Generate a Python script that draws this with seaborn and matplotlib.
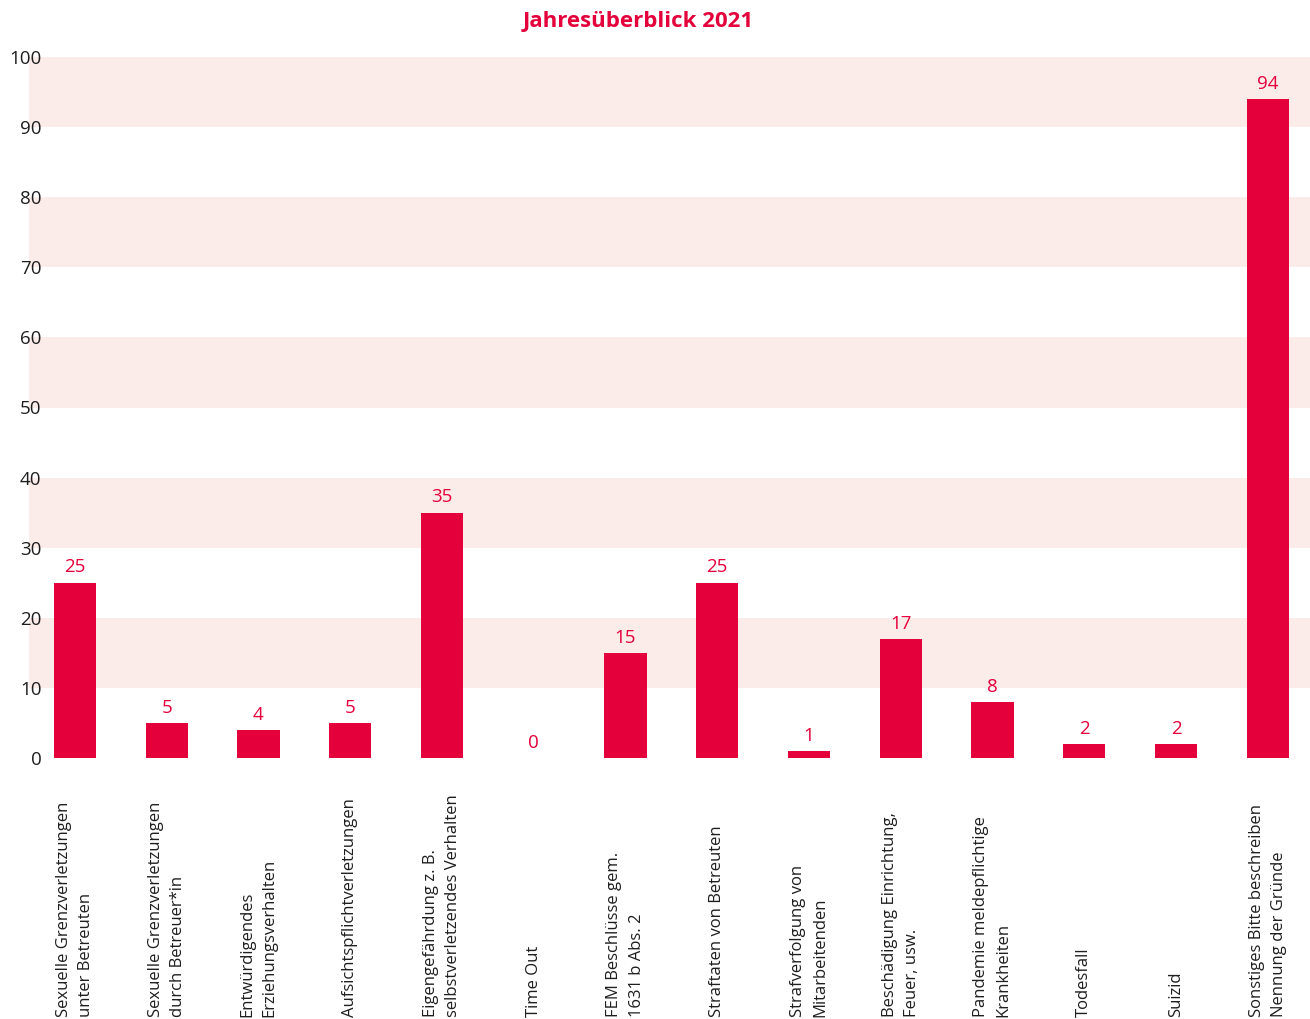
import pandas as pd
import numpy as np
import matplotlib.pyplot as plt
import matplotlib.transforms as mtransforms
import seaborn as sns

# Daten
kategorien = [
    "Sexuelle Grenzverletzungen\nunter Betreuten",
    "Sexuelle Grenzverletzungen\ndurch Betreuer*in",
    "Entwürdigendes\nErziehungsverhalten",
    "Aufsichtspflichtverletzungen",
    "Eigengefährdung z. B.\nselbstverletzendes Verhalten",
    "Time Out",
    "FEM Beschlüsse gem.\n1631 b Abs. 2",
    "Straftaten von Betreuten",
    "Strafverfolgung von\nMitarbeitenden",
    "Beschädigung Einrichtung,\nFeuer, usw.",
    "Pandemie meldepflichtige\nKrankheiten",
    "Todesfall",
    "Suizid",
    "Sonstiges Bitte beschreiben\nNennung der Gründe",
]
anzahl = [25, 5, 4, 5, 35, 0, 15, 25, 1, 17, 8, 2, 2, 94]
y_ticks = list(range(0, 101, 10))

ROT = "#E4003A"
BAND = "#FBEBE9"

sns.set_style("white")
plt.rcParams['font.family'] = ['Open Sans', 'DejaVu Sans']

df = pd.DataFrame({"Kategorie": kategorien, "Anzahl": anzahl})

fig = plt.figure(figsize=(13.1, 10.19), dpi=100)
ax = fig.add_axes([29 / 1310, 1 - 758 / 1019, 1 - 29 / 1310, (758 - 57) / 1019])

# Hintergrundbänder
for unten in range(10, 100, 20):
    ax.axhspan(unten, unten + 10, color=BAND, zorder=0, lw=0)

sns.barplot(data=df, x="Kategorie", y="Anzahl", color=ROT, saturation=1,
            width=0.46, ax=ax, zorder=2, linewidth=0, edgecolor="none")

ax.set_ylim(0, 100)
ax.set_xlim(-0.5, 13.46)
ax.set_yticks(y_ticks)
ax.tick_params(axis='y', length=0, pad=-9, labelsize=13.5, labelcolor="#1e1e1e")
ax.set_xticks([])
ax.set_xlabel("")
ax.set_ylabel("")
sns.despine(ax=ax, left=True, bottom=True)

# Wertbeschriftungen
for i, v in enumerate(anzahl):
    ax.annotate(str(v), (i, v), xytext=(0, 4.5), textcoords="offset points",
                ha="center", va="bottom", color=ROT, fontsize=13.5)

# Kategorienbeschriftungen (unten ausgerichtet)
trans = mtransforms.blended_transform_factory(ax.transData, fig.transFigure)
for i, k in enumerate(kategorien):
    ax.text(i, 0.002, k, transform=trans, rotation=90, ha="center", va="bottom",
            multialignment="left", fontsize=12, linespacing=1.52,
            color="#1e1e1e")

fig.suptitle("Jahresüberblick 2021", x=638 / 1310, y=1 - 11 / 1019, va="top",
             color=ROT, fontsize=16, fontweight="bold")

fig.savefig("out.png", dpi=100)
